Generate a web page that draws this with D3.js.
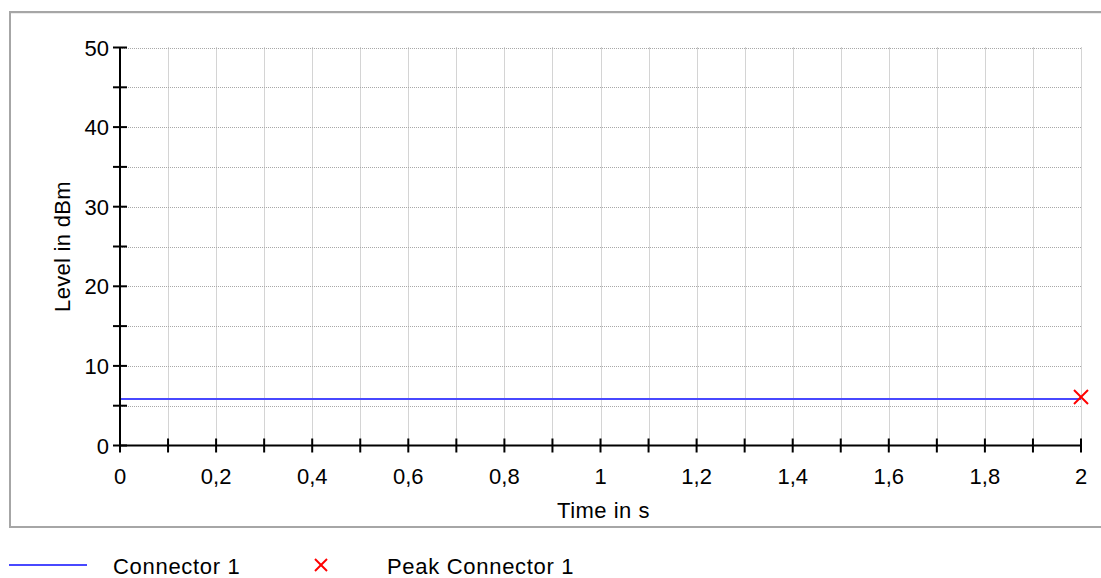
<!DOCTYPE html>
<html>
<head>
<meta charset="utf-8">
<script src="https://cdn.jsdelivr.net/npm/d3@7"></script>
<style>
  html, body { margin: 0; padding: 0; background: #fff; }
  svg { display: block; }
  text { font-family: "Liberation Sans", Arial, Helvetica, sans-serif; fill: #000; }
</style>
</head>
<body>
<svg id="chart" width="1101" height="578"></svg>
<script>
// Measured level of connector 1 over time
const timeValues = [0, 0.25, 0.5, 0.75, 1, 1.25, 1.5, 1.75, 2];
const levelValues = [5.85, 5.85, 5.85, 5.85, 5.85, 5.85, 5.85, 5.85, 5.85];

// Peak marker
const peakTime = [2];
const peakLevel = [6.1];

// Axis ticks
const xMajorTicks = [0, 0.2, 0.4, 0.6, 0.8, 1, 1.2, 1.4, 1.6, 1.8, 2];
const xMinorTicks = [0, 0.1, 0.2, 0.3, 0.4, 0.5, 0.6, 0.7, 0.8, 0.9, 1, 1.1, 1.2, 1.3, 1.4, 1.5, 1.6, 1.7, 1.8, 1.9, 2];
const yMajorTicks = [0, 10, 20, 30, 40, 50];
const yMinorTicks = [0, 5, 10, 15, 20, 25, 30, 35, 40, 45, 50];

const seriesNames = ["Connector 1", "Peak Connector 1"];
const xTitle = "Time in s";
const yTitle = "Level in dBm";

const svg = d3.select("#chart");
const FONT = 22;

const locale = d3.formatLocale({ decimal: ",", thousands: ".", grouping: [3], currency: ["", " €"] });
const fmt = locale.format("~g");

const x = d3.scaleLinear().domain([0, 2]).range([120, 1081]);
const y = d3.scaleLinear().domain([0, 50]).range([445.5, 47.5]);

// Panel frame
svg.append("line").attr("x1", 10).attr("x2", 1101).attr("y1", 12).attr("y2", 12)
  .attr("stroke", "#a6a6a6").attr("stroke-width", 2);
svg.append("line").attr("x1", 11).attr("x2", 1101).attr("y1", 13.5).attr("y2", 13.5)
  .attr("stroke", "#ececec").attr("stroke-width", 1);
svg.append("line").attr("x1", 10).attr("x2", 10).attr("y1", 11).attr("y2", 528)
  .attr("stroke", "#a6a6a6").attr("stroke-width", 2);
svg.append("line").attr("x1", 9).attr("x2", 1101).attr("y1", 527).attr("y2", 527)
  .attr("stroke", "#a6a6a6").attr("stroke-width", 2);

// Dotted grid
const grid = svg.append("g").attr("stroke", "#a8a8a8").attr("stroke-width", 1)
  .attr("stroke-dasharray", "1,1");
grid.selectAll("line.v").data(xMinorTicks.filter(d => d > 0)).join("line")
  .attr("x1", d => Math.round(x(d)) + 0.5).attr("x2", d => Math.round(x(d)) + 0.5)
  .attr("y1", y(50)).attr("y2", y(0));
grid.selectAll("line.h").data(yMinorTicks.filter(d => d > 0)).join("line")
  .attr("x1", x(0)).attr("x2", x(2))
  .attr("y1", d => Math.round(y(d)) + 0.5).attr("y2", d => Math.round(y(d)) + 0.5);

// Series line
const line = d3.line().x((d, i) => x(timeValues[i])).y(d => y(d));
svg.append("path").datum(levelValues)
  .attr("d", line).attr("fill", "none")
  .attr("stroke", "#4848ff").attr("stroke-width", 2);

// Axes: ticks cross the axis line
const axes = svg.append("g").attr("stroke", "#000").attr("stroke-width", 2);
axes.append("line").attr("x1", x(0)).attr("x2", x(0)).attr("y1", y(50)).attr("y2", y(0));
axes.append("line").attr("x1", x(0)).attr("x2", x(2)).attr("y1", y(0)).attr("y2", y(0));
axes.selectAll("line.yt").data(yMinorTicks).join("line")
  .attr("x1", x(0) - 7).attr("x2", x(0) + 7)
  .attr("y1", d => y(d)).attr("y2", d => y(d));
axes.selectAll("line.xt").data(xMinorTicks).join("line")
  .attr("x1", d => x(d)).attr("x2", d => x(d))
  .attr("y1", y(0) - 7).attr("y2", y(0) + 7);

// Tick labels
svg.append("g").selectAll("text").data(yMajorTicks).join("text")
  .attr("x", x(0) - 11).attr("y", d => y(d) + 8)
  .attr("text-anchor", "end").attr("font-size", FONT)
  .text(d => fmt(d));
svg.append("g").selectAll("text").data(xMajorTicks).join("text")
  .attr("x", d => x(d)).attr("y", 484)
  .attr("text-anchor", "middle").attr("font-size", FONT)
  .text(d => fmt(d));

// Axis titles
svg.append("text").attr("x", (x(0) + x(2)) / 2 + 3).attr("y", 518)
  .attr("text-anchor", "middle").attr("font-size", FONT).attr("letter-spacing", 0.5)
  .text(xTitle);
svg.append("text")
  .attr("transform", `translate(70,${(y(0) + y(50)) / 2}) rotate(-90)`)
  .attr("text-anchor", "middle").attr("font-size", FONT).attr("letter-spacing", 0.3)
  .text(yTitle);

// Peak marker
const cross = (g, cx, cy, r) => {
  g.append("line").attr("x1", cx - r).attr("x2", cx + r).attr("y1", cy - r).attr("y2", cy + r);
  g.append("line").attr("x1", cx - r).attr("x2", cx + r).attr("y1", cy + r).attr("y2", cy - r);
};
const peaks = svg.append("g").attr("stroke", "#ff0000").attr("stroke-width", 2);
peakTime.forEach((t, i) => cross(peaks, x(t), y(peakLevel[i]), 7));

// Legend
const legY = 565;
svg.append("line").attr("x1", 9).attr("x2", 87).attr("y1", legY).attr("y2", legY)
  .attr("stroke", "#4848ff").attr("stroke-width", 2);
svg.append("text").attr("x", 113).attr("y", 574).attr("font-size", FONT)
  .attr("letter-spacing", 0.7).text(seriesNames[0]);
const legPeak = svg.append("g").attr("stroke", "#ff0000").attr("stroke-width", 2);
cross(legPeak, 321, legY, 6);
svg.append("text").attr("x", 387).attr("y", 574).attr("font-size", FONT)
  .attr("letter-spacing", 0.7).text(seriesNames[1]);
</script>
</body>
</html>
